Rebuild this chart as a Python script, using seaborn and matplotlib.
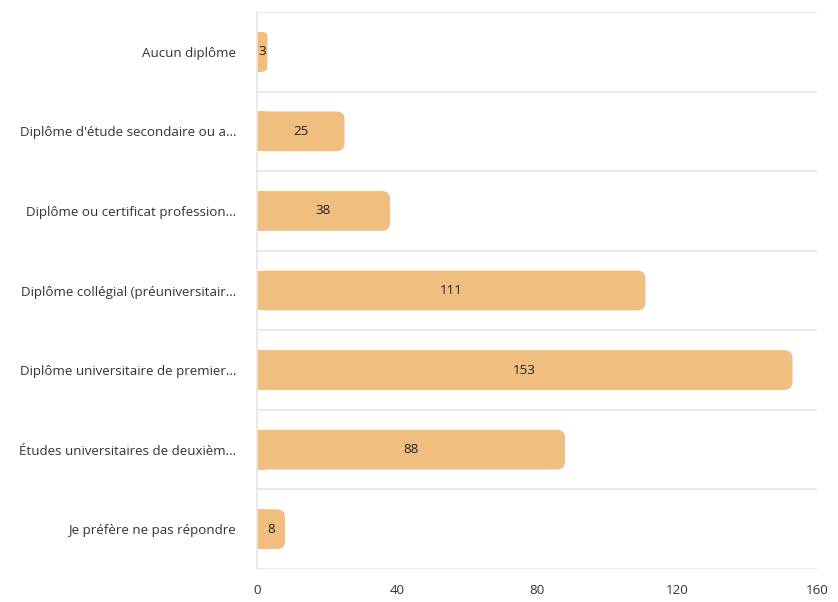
import numpy as np
import pandas as pd
import seaborn as sns
import matplotlib
matplotlib.use("Agg")
import matplotlib.pyplot as plt
from matplotlib.patches import FancyBboxPatch, Rectangle

# chart data
categories = [
    "Aucun diplôme",
    "Diplôme d'étude secondaire ou a...",
    "Diplôme ou certificat profession...",
    "Diplôme collégial (préuniversitair...",
    "Diplôme universitaire de premier...",
    "Études universitaires de deuxièm...",
    "Je préfère ne pas répondre",
]
counts = [3, 25, 38, 111, 153, 88, 8]
x_ticks = [0, 40, 80, 120, 160]

df = pd.DataFrame({"categorie": categories, "n": counts})

sns.set_theme(style="white")
plt.rcParams["font.family"] = ["Open Sans", "DejaVu Sans"]

bar_color = "#f0be7e"
grid_color = "#e6e6e6"
text_color = "#333333"

fig = plt.figure(figsize=(8.38, 6.02), dpi=100)
ax = fig.add_axes([257 / 838, 1 - 569 / 602, 560 / 838, 557 / 602])

sns.barplot(data=df, y="categorie", x="n", orient="h", color=bar_color,
            saturation=1, width=0.5, ax=ax)

ax.set_xlim(0, 160)
ax.set_ylim(len(categories) - 0.5, -0.5)
ax.set_xticks(x_ticks)
ax.set_xlabel("")
ax.set_ylabel("")

# separator lines between categories
ax.set_yticks(np.arange(-0.5, len(categories)), minor=True)
ax.grid(False)
ax.grid(True, which="minor", axis="y", color=grid_color, linewidth=1.2)
ax.tick_params(axis="y", which="both", length=0, pad=15, labelsize=9.6, labelcolor=text_color)
ax.tick_params(axis="x", length=5, width=1, color=grid_color, pad=6, labelsize=9.6,
               labelcolor=text_color)
for side in ["top", "right", "bottom"]:
    ax.spines[side].set_visible(False)
ax.spines["left"].set_color(grid_color)
ax.spines["left"].set_linewidth(1.2)

# rounded right ends on the bars
px_x = 560 / 160
px_y = 557 / len(categories)
aspect = px_x / px_y
r_px = 8
for p in list(ax.patches):
    x0, y0 = p.get_x(), p.get_y()
    w, h = p.get_width(), p.get_height()
    rs = min(r_px / px_x, w / 2)
    p.set_visible(False)
    ax.add_patch(FancyBboxPatch((x0, y0), w, h, boxstyle=f"round,pad=0,rounding_size={rs}",
                                mutation_aspect=aspect, facecolor=bar_color,
                                edgecolor="none", zorder=2))
    ax.add_patch(Rectangle((x0, y0), rs, h, facecolor=bar_color, edgecolor="none", zorder=2))

for i, v in enumerate(df["n"]):
    ax.text(v / 2, i, str(v), ha="center", va="center", fontsize=9.6,
            color="#222222", zorder=3)

fig.savefig("out.png", dpi=100)
